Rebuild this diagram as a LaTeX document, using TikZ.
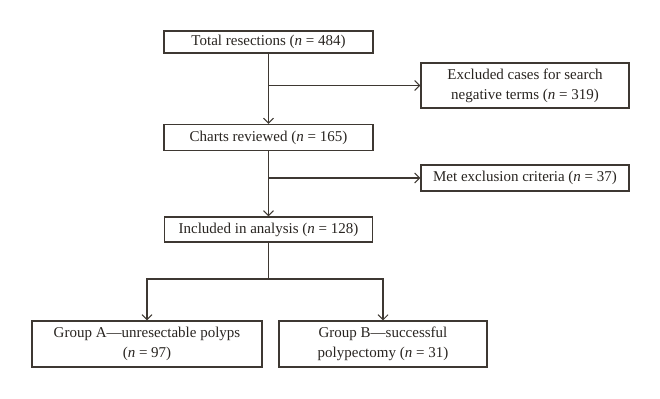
\documentclass[tikz,border=0pt]{standalone}
\usepackage{fontspec}
\setmainfont{Liberation Serif}
\usetikzlibrary{arrows.meta}
\definecolor{ln}{RGB}{62,56,50}
\definecolor{tx}{RGB}{40,36,32}
\begin{document}
\begin{tikzpicture}[x=1bp,y=-1bp,
  box/.style={draw=ln,line width=1.2bp,text=tx,inner sep=0pt,align=center,
    font=\fontsize{15bp}{20bp}\selectfont},
  conn/.style={draw=ln,line width=1.2bp},
  arr/.style={conn,-{Straight Barb[length=5bp,width=10bp,line width=1bp]}}]
\useasboundingbox (0,0) rectangle (660,398);
\node[box,minimum width=209bp,minimum height=22bp] (total) at (268.5,42) {Total resections (\emph{n} = 484)};
\node[box,minimum width=208bp,minimum height=45bp] (excl) at (525,85.5) {Excluded cases for search\\negative terms (\emph{n} = 319)};
\node[box,minimum width=209bp,minimum height=26bp] (charts) at (268.5,137.5) {Charts reviewed (\emph{n} = 165)};
\node[box,minimum width=208bp,minimum height=26bp] (met) at (525,178) {Met exclusion criteria (\emph{n} = 37)};
\node[box,minimum width=208bp,minimum height=25bp] (incl) at (268.5,229.5) {Included in analysis (\emph{n} = 128)};
\node[box,minimum width=230bp,minimum height=46bp] (ga) at (147,344) {Group A---unresectable polyps\\(\emph{n} = 97)};
\node[box,minimum width=208bp,minimum height=46bp] (gb) at (383,344) {Group B---successful\\polypectomy (\emph{n} = 31)};
\coordinate (j1) at (total.south |- excl.west);
\coordinate (j2) at (charts.south |- met.west);
\coordinate (j3) at (268.5,279);
\draw[arr] (total.south) -- (charts.north);
\draw[arr] (j1) -- (excl.west);
\draw[arr] (charts.south) -- (incl.north);
\draw[arr] (j2) -- (met.west);
\draw[conn] (incl.south) -- (j3);
\draw[arr] (j3) -| (ga.north);
\draw[arr] (j3) -| (gb.north);
\end{tikzpicture}
\end{document}
